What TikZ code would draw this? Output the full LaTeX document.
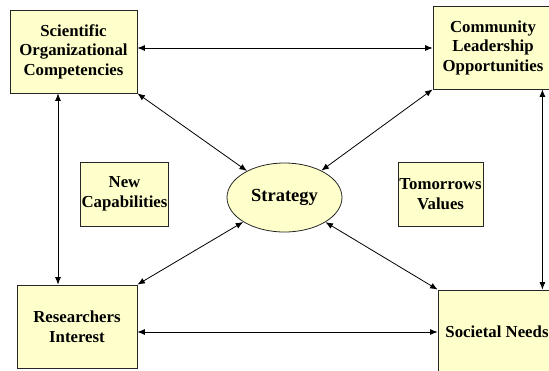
\documentclass[tikz,border=0pt]{standalone}
\usepackage{fontspec}
\setmainfont{Liberation Serif}
\usetikzlibrary{shapes.geometric, arrows.meta}
\definecolor{paleyellow}{HTML}{FFFFCC}

\begin{document}
\begin{tikzpicture}[x=1pt, y=-1pt,
  block/.style = {shape=rectangle, draw=black!85, line width=0.8pt,
    fill=paleyellow, align=center, inner sep=1pt,
    font=\bfseries\fontsize{16.8}{19.5}\selectfont},
  hub/.style = {shape=ellipse, draw=black!85, line width=0.8pt,
    fill=paleyellow, inner sep=0pt, minimum width=115pt, minimum height=69pt,
    font=\bfseries\fontsize{18.5}{21}\selectfont},
  link/.style = {{Latex[length=7.5pt,width=6pt]}-{Latex[length=7.5pt,width=6pt]}, line width=0.8pt}]
  \useasboundingbox (0,0) rectangle (549,370);
  \clip (0,0) rectangle (549,370);
  % corner boxes
  \node[block, minimum width=127pt, minimum height=83pt] (sci) at (73.5,51.5)
    {Scientific\\ Organizational\\ Competencies};
  \node[block, minimum width=120pt, minimum height=83pt] (com) at (493,47.5)
    {Community\\ Leadership\\ Opportunities};
  \node[block, minimum width=120pt, minimum height=83pt] (res) at (77,326.5)
    {Researchers\\ Interest};
  \node[block, minimum width=118pt, minimum height=84pt] (soc) at (497,332)
    {Societal Needs};
  % middle row
  \node[block, minimum width=85pt, minimum height=64pt] (cap) at (124.5,194)
    {New\\ Capabilities};
  \node[hub] (strat) at (284.5,197.5) {Strategy};
  \node[block, minimum width=85pt, minimum height=64pt] (val) at (440.5,194)
    {Tomorrows\\ Values};
  % connectors
  \draw[link] ([yshift=3.5pt]sci.east) -- ([yshift=3.5pt]sci.east -| com.west);
  \draw[link] ([xshift=-15.5pt]sci.south) -- ([xshift=-15.5pt]sci.south |- res.north);
  \draw[link] ([xshift=-11pt]com.south east) -- ([xshift=-11pt]com.south east |- soc.north);
  \draw[link] (res.east |- soc.west) -- (soc.west);
  \draw[link] (sci.south east) -- (strat);
  \draw[link] (com.south west) -- (strat);
  \draw[link] (res.north east) -- (strat);
  \draw[link] (soc.north west) -- (strat);
\end{tikzpicture}
\end{document}
